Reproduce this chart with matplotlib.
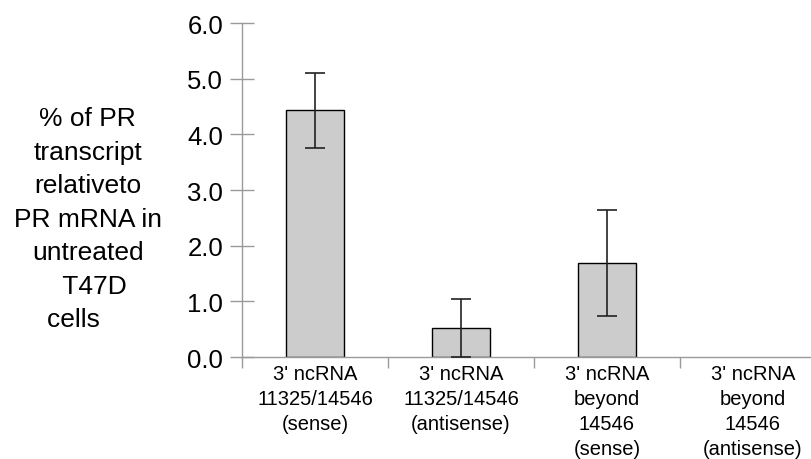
import matplotlib.pyplot as plt

plt.rcParams['font.family'] = ['Liberation Sans', 'DejaVu Sans']

categorias = ["3' ncRNA\n11325/14546\n(sense)",
              "3' ncRNA\n11325/14546\n(antisense)",
              "3' ncRNA\nbeyond\n14546\n(sense)",
              "3' ncRNA\nbeyond\n14546\n(antisense)"]
valores = [4.43, 0.52, 1.69, 0.0]
errores = [0.68, 0.52, 0.95, 0.0]
ticks_y = [0, 1, 2, 3, 4, 5, 6]

GRIS = '#9a9a9a'

fig = plt.figure(figsize=(8.12, 4.6), dpi=100)
ax = fig.add_axes([0.298, 0.2217, 0.7192, 0.7261])

pos = list(range(len(categorias)))
ax.bar(pos[:3], valores[:3], width=0.4, color='#cccccc', edgecolor='black', linewidth=1.0, zorder=2)
ax.errorbar(pos[:3], valores[:3], yerr=errores[:3], fmt='none', ecolor='#222222',
            elinewidth=1.2, capsize=7, capthick=1.2, zorder=3)

ax.set_xlim(-0.5, 3.5)
ax.set_ylim(0, 6)
ax.set_yticks(ticks_y)
ax.set_yticklabels([f'{v:.1f}' for v in ticks_y], fontsize=18.5)
ax.tick_params(axis='y', direction='inout', length=17, width=1, color=GRIS, pad=5)

ax.set_xticks([-0.5, 0.5, 1.5, 2.5])
ax.set_xticklabels([])
ax.set_xticks(pos, minor=True)
ax.set_xticklabels(categorias, minor=True, fontsize=14.5, linespacing=1.4)
ax.tick_params(axis='x', which='major', direction='out', length=8, width=1, color=GRIS)
ax.tick_params(axis='x', which='minor', length=0, pad=5)

for lado in ['top', 'right']:
    ax.spines[lado].set_visible(False)
for lado in ['left', 'bottom']:
    ax.spines[lado].set_color(GRIS)
    ax.spines[lado].set_linewidth(1)

fig.text(0.108, 0.522, '% of PR\ntranscript\nrelativeto\nPR mRNA in\nuntreated\n  T47D\ncells    ',
         ha='center', va='center', fontsize=19, linespacing=1.5)

fig.savefig('out.png', dpi=100)
